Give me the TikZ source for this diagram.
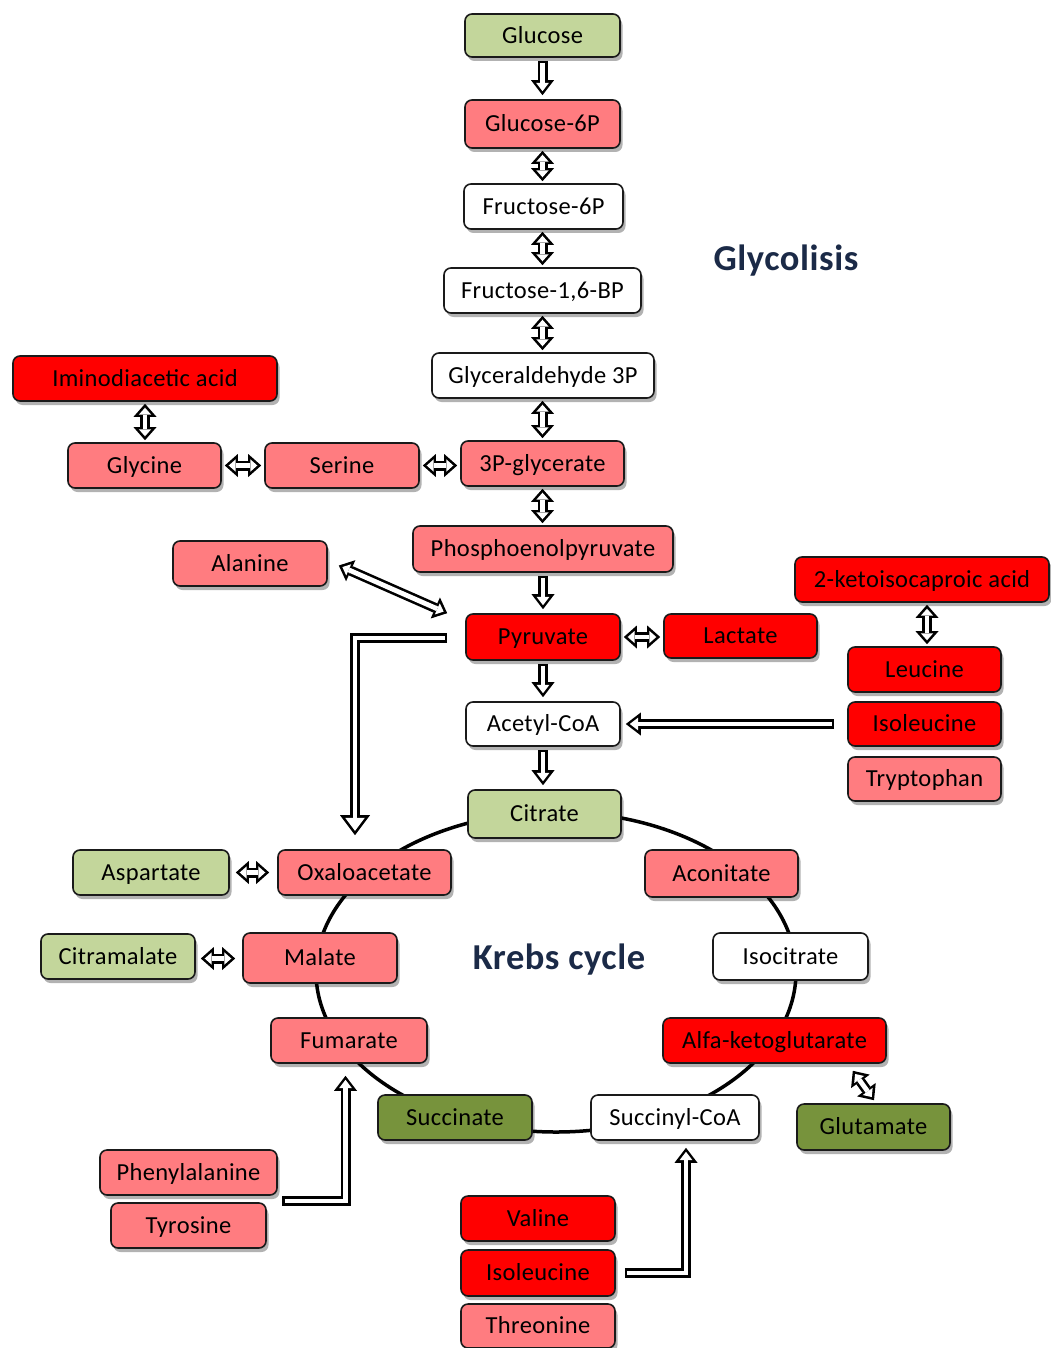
\documentclass[tikz,border=0pt]{standalone}
\usepackage{fontspec}
\setmainfont{Carlito}[LetterSpace=1.5]
\usetikzlibrary{arrows.meta,shadows,calc}
\definecolor{lgreen}{HTML}{C3D69B}
\definecolor{pinkc}{HTML}{FF7C80}
\definecolor{redc}{HTML}{FF0000}
\definecolor{dgreen}{HTML}{77933C}
\definecolor{navy}{HTML}{1B2A47}
\definecolor{edgec}{HTML}{1A1A1A}
\tikzset{
  box/.style={draw=edgec, line width=1.6pt, rounded corners=7pt, inner sep=0pt,
    font=\fontsize{24.5}{28}\selectfont, text=black, text height=18pt, text depth=2.5pt,
    drop shadow={shadow xshift=2.5pt, shadow yshift=-4pt, fill=black, opacity=0.3}},
  bx/.style 2 args={box, minimum width=#1pt, minimum height=#2pt},
  title/.style={font=\bfseries\fontsize{36.5}{40}\selectfont, text=navy, inner sep=0pt},
  oT/.tip={Triangle[length=13pt,width=23pt,line width=0pt]},
  iT/.tip={Triangle[length=6.9pt,width=12.2pt,line width=0pt]},
  oS/.tip={Triangle[length=15pt,width=23pt,line width=0pt]},
  iS/.tip={Triangle[length=8.4pt,width=12.9pt,line width=0pt]},
  oB/.tip={Triangle[length=20pt,width=30pt,line width=0pt]},
  iB/.tip={Triangle[length=13pt,width=19.5pt,line width=0pt]},
  fat/.style={draw=black, line width=10pt, line join=miter, -{oS},
    postaction={draw=white, line width=4.8pt, line join=miter, -{iS}, shorten >=4.0pt, shorten <=2.6pt}},
  fatbig/.style={draw=black, line width=10pt, line join=miter, -{oB},
    postaction={draw=white, line width=4.8pt, line join=miter, -{iB}, shorten >=4.3pt, shorten <=2.6pt}},
  fatboth/.style={draw=black, line width=10pt, {oT}-{oT},
    postaction={draw=white, line width=4.8pt, {iT}-{iT}, shorten >=3.9pt, shorten <=3.9pt}},
}
\begin{document}
\begin{tikzpicture}[x=1pt,y=-1pt]
\useasboundingbox (0,0) rectangle (1051,1348);
% Krebs cycle ring
\draw[line width=3.5pt] (556,972) ellipse [x radius=240pt, y radius=160pt];
% glycolysis
\node[bx={155}{43}, fill=lgreen] (glu) at (542.5,35.5) {Glucose};
\node[bx={155}{48}, fill=pinkc] (g6p) at (542.5,124) {Glucose-6P};
\node[bx={159}{45}, fill=white] (f6p) at (543.5,206.5) {Fructose-6P};
\node[bx={197}{45}, fill=white] (f16) at (542.5,290.5) {Fructose-1,6-BP};
\node[bx={222}{45}, fill=white] (g3p) at (543,375.5) {Glyceraldehyde 3P};
\node[bx={163}{45}, fill=pinkc] (pg3) at (542.5,463.5) {3P-glycerate};
\node[bx={260}{46}, fill=pinkc] (pep) at (543,549) {Phosphoenolpyruvate};
\node[bx={154}{46}, fill=redc] (pyr) at (543,637) {Pyruvate};
\node[bx={153}{44}, fill=redc] (lac) at (740.5,636) {Lactate};
\node[bx={154}{44}, fill=white] (acc) at (543,724) {Acetyl-CoA};
\node[bx={153}{48}, fill=lgreen] (cit) at (544.5,814) {Citrate};
% left side amino acids
\node[bx={264}{45}, fill=redc] (imi) at (145,378.5) {Iminodiacetic acid};
\node[bx={153}{45}, fill=pinkc] (gly) at (144.5,465.5) {Glycine};
\node[bx={154}{45}, fill=pinkc] (ser) at (342,465.5) {Serine};
\node[bx={154}{45}, fill=pinkc] (ala) at (250,563.5) {Alanine};
% right side
\node[bx={254}{45}, fill=redc] (keto) at (922,579.5) {2-ketoisocaproic acid};
\node[bx={153}{45}, fill=redc] (leu) at (924.5,669.5) {Leucine};
\node[bx={153}{44}, fill=redc] (ile1) at (924.5,724) {Isoleucine};
\node[bx={153}{44}, fill=pinkc] (trp) at (924.5,779) {Tryptophan};
% Krebs cycle
\node[bx={156}{45}, fill=lgreen] (asp) at (151,872.5) {Aspartate};
\node[bx={173}{45}, fill=pinkc] (oxa) at (364.5,872.5) {Oxaloacetate};
\node[bx={153}{47}, fill=pinkc] (aco) at (721.5,873.5) {Aconitate};
\node[bx={154}{45}, fill=lgreen] (cim) at (118,956.5) {Citramalate};
\node[bx={154}{50}, fill=pinkc] (mal) at (320,958) {Malate};
\node[bx={155}{47}, fill=white] (iso) at (790.5,956.5) {Isocitrate};
\node[bx={156}{45}, fill=pinkc] (fum) at (349,1040.5) {Fumarate};
\node[bx={223}{45}, fill=redc] (akg) at (774.5,1040.5) {Alfa-ketoglutarate};
\node[bx={154}{45}, fill=dgreen] (suc) at (455,1117.5) {Succinate};
\node[bx={168}{45}, fill=white] (sca) at (675,1117.5) {Succinyl-CoA};
\node[bx={153}{46}, fill=dgreen] (glt) at (873.5,1127) {Glutamate};
% bottom amino acids
\node[bx={177}{45}, fill=pinkc] (phe) at (188.5,1172.5) {Phenylalanine};
\node[bx={155}{45}, fill=pinkc] (tyr) at (188.5,1225.5) {Tyrosine};
\node[bx={154}{45}, fill=redc] (val) at (538,1218.5) {Valine};
\node[bx={154}{46}, fill=redc] (ile2) at (538,1273) {Isoleucine};
\node[bx={154}{44}, fill=pinkc] (thr) at (538,1326) {Threonine};
% titles
\node[title] (t1) at (786,261) {Glycolisis};
\node[title] (t2) at (559,960) {Krebs cycle};
% glycolysis arrows
\draw[fat] ([yshift=-3pt]glu.south) -- ([yshift=4pt]g6p.north);
\draw[fatboth] ([yshift=-2pt]g6p.south) -- ([yshift=2pt]g6p.south |- f6p.north);
\draw[fatboth] ([yshift=-2pt]f6p.south -| g6p.south) -- ([yshift=2pt]g6p.south |- f16.north);
\draw[fatboth] ([yshift=-2pt]f16.south -| g6p.south) -- ([yshift=2pt]g6p.south |- g3p.north);
\draw[fatboth] ([yshift=-2pt]g3p.south -| g6p.south) -- ([yshift=2pt]pg3.north);
\draw[fatboth] ([yshift=-2pt]pg3.south) -- ([yshift=2pt]pg3.south |- pep.north);
\draw[fat] ([yshift=-3pt]pep.south -| pyr.north) -- ([yshift=4pt]pyr.north);
\draw[fat] ([yshift=-3pt]pyr.south) -- ([yshift=4pt]acc.north);
\draw[fat] ([yshift=-3pt]acc.south) -- ([yshift=4pt]acc.south |- cit.north);
% side arrows
\draw[fatboth] ([yshift=-2pt]imi.south) -- ([yshift=2pt]imi.south |- gly.north);
\draw[fatboth] ([xshift=3pt]gly.east) -- ([xshift=-3pt]ser.west);
\draw[fatboth] ([xshift=3pt]ser.east) -- ([xshift=-3pt]ser.east -| pg3.west);
\draw[fatboth] ([xshift=3pt]pyr.east) -- ([xshift=-3pt]pyr.east -| lac.west);
\draw[fatboth] ([xshift=5pt,yshift=-2pt]keto.south) -- ([xshift=2.5pt,yshift=2pt]leu.north);
\draw[fatboth] ([xshift=6pt]asp.east) -- ([xshift=-8pt]oxa.west);
\draw[fatboth] ([xshift=5pt,yshift=-2pt]cim.east) -- ([xshift=-7pt,yshift=-0.5pt]mal.west);
\draw[fatboth] ([xshift=11pt,yshift=-2pt]ala.east) -- ([xshift=-18pt]pyr.north west);
\draw[fatboth] ([xshift=-34pt,yshift=-7pt]akg.south east) -- ([xshift=0.5pt,yshift=3pt]glt.north);
% long arrows
\draw[fatbig] ([xshift=-18pt,yshift=-1pt]pyr.west) -| ([xshift=-9.5pt,yshift=14pt]oxa.north);
\draw[fat] ([xshift=-13pt]ile1.west) -- ([xshift=5pt]ile1.west -| acc.east);
\coordinate (phetail) at (282,1201);
\draw[fat] (phetail) -| ([xshift=-3.5pt,yshift=-12pt]fum.south);
\draw[fat] ([xshift=9pt]ile2.east) -| ([xshift=11pt,yshift=-7pt]sca.south);
\end{tikzpicture}
\end{document}
